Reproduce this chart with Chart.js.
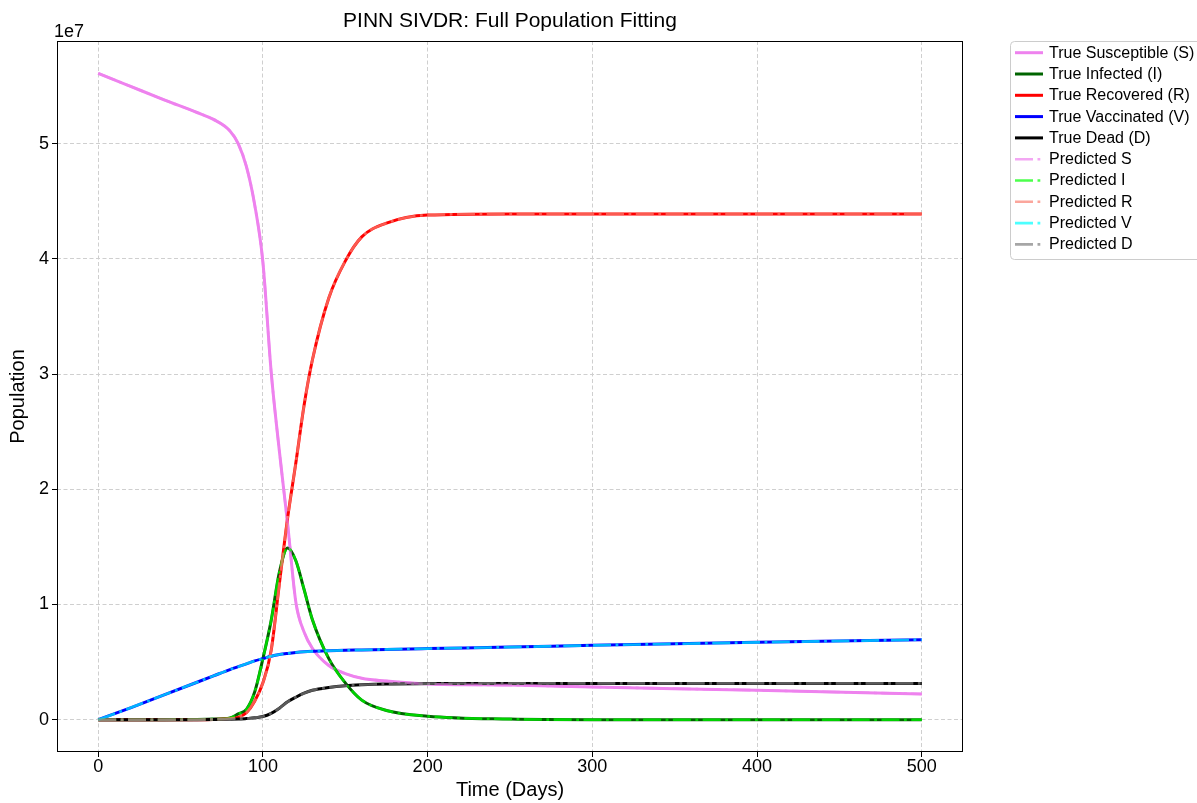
<!DOCTYPE html>
<html>
<head>
<meta charset="utf-8">
<title>PINN SIVDR: Full Population Fitting</title>
<script src="https://cdn.jsdelivr.net/npm/chart.js@4.4.1/dist/chart.umd.min.js"></script>
<style>
    html, body { margin: 0; padding: 0; background: #ffffff; }
</style>
</head>
<body>
<canvas id="myChart" width="1197" height="803"></canvas>
<script>
// values, population in units of 1e7
const days = [0, 20, 40, 60, 70, 80, 85, 90, 95, 100, 105, 110, 115, 120, 125, 130, 140, 150, 160, 175, 200, 250, 300, 400, 500];

const trueS = [5.61, 5.495, 5.38, 5.27, 5.21, 5.11, 5.00, 4.80, 4.47, 3.97, 3.02, 2.33, 1.70, 1.02, 0.76, 0.62, 0.47, 0.40, 0.36, 0.335, 0.31, 0.30, 0.284, 0.255, 0.223];
const trueI = [0, 0, 0, 0.002, 0.005, 0.015, 0.05, 0.09, 0.24, 0.53, 0.86, 1.28, 1.49, 1.38, 1.13, 0.87, 0.53, 0.32, 0.17, 0.08, 0.03, 0.005, 0, 0, 0];
const trueR = [0, 0, 0, 0, 0.002, 0.01, 0.02, 0.06, 0.16, 0.32, 0.60, 1.18, 1.75, 2.23, 2.73, 3.12, 3.66, 3.98, 4.19, 4.31, 4.38, 4.39, 4.39, 4.39, 4.39];
const trueV = [0, 0.105, 0.215, 0.325, 0.38, 0.435, 0.46, 0.485, 0.51, 0.53, 0.55, 0.565, 0.575, 0.583, 0.589, 0.593, 0.598, 0.602, 0.605, 0.61, 0.617, 0.63, 0.645, 0.671, 0.694];
const trueD = [0, 0, 0, 0, 0.001, 0.003, 0.005, 0.01, 0.016, 0.027, 0.055, 0.10, 0.155, 0.195, 0.23, 0.255, 0.28, 0.295, 0.303, 0.31, 0.313, 0.315, 0.315, 0.315, 0.315];

// the predictions sit right on top of the true curves at this scale
const predS = trueS;
const predI = trueI;
const predR = trueR;
const predV = trueV;
const predD = trueD;

const labels = [
    'True Susceptible (S)',
    'True Infected (I)',
    'True Recovered (R)',
    'True Vaccinated (V)',
    'True Dead (D)',
    'Predicted S',
    'Predicted I',
    'Predicted R',
    'Predicted V',
    'Predicted D'
];

const xTicks = [0, 100, 200, 300, 400, 500];
const yTicks = [0, 1, 2, 3, 4, 5];

const FONT = "'Liberation Sans', Arial, Helvetica, sans-serif";
const DASHDOT = [18, 4.5, 2.8, 4.5];

function toPoints(values) {
    return days.map((d, i) => { return { x: d, y: values[i] } });
}

function makeDataset(idx, values, color, width, dash) {
    return {
        label: labels[idx],
        data: toPoints(values),
        borderColor: color,
        backgroundColor: color,
        borderWidth: width,
        borderDash: dash,
        pointRadius: 0,
        fill: false,
        cubicInterpolationMode: 'monotone',
        // later datasets are drawn on top, like matplotlib
        order: 20 - idx
    };
}

// legend with a thin frame, drawn by hand next to the plot
const sideLegend = {
    id: 'sideLegend',
    afterDraw(chart) {
        const ctx = chart.ctx;
        const area = chart.chartArea;
        const left = area.right + 47;
        const top = area.top;
        ctx.save();
        ctx.beginPath();
        ctx.roundRect(left + 0.5, top + 0.5, 200, 218, 4);
        ctx.fillStyle = 'rgba(255,255,255,0.8)';
        ctx.fill();
        ctx.strokeStyle = '#cccccc';
        ctx.lineWidth = 1;
        ctx.stroke();

        ctx.font = '16px ' + FONT;
        ctx.textBaseline = 'middle';
        ctx.textAlign = 'left';
        chart.data.datasets.forEach((ds, i) => {
            const y = top + 11.7 + i * 21.3;
            ctx.beginPath();
            ctx.setLineDash(ds.borderDash || []);
            ctx.strokeStyle = ds.borderColor;
            ctx.lineWidth = ds.borderWidth;
            ctx.moveTo(left + 5, y);
            ctx.lineTo(left + 33, y);
            ctx.stroke();
            ctx.setLineDash([]);
            ctx.fillStyle = '#000000';
            ctx.fillText(ds.label, left + 39, y + 0.5);
        });
        ctx.restore();
    }
};

// closed box round the axes plus the "1e7" offset text
const axesFrame = {
    id: 'axesFrame',
    afterDatasetsDraw(chart) {
        const ctx = chart.ctx;
        const a = chart.chartArea;
        ctx.save();
        ctx.strokeStyle = '#000000';
        ctx.lineWidth = 1;
        ctx.strokeRect(Math.round(a.left) + 0.5, Math.round(a.top) + 0.5,
            Math.round(a.right - a.left) - 1, Math.round(a.bottom - a.top) - 1);
        ctx.font = '18px ' + FONT;
        ctx.fillStyle = '#000000';
        ctx.textAlign = 'left';
        ctx.textBaseline = 'alphabetic';
        ctx.fillText('1e7', a.left - 3, a.top - 4);
        ctx.restore();
    }
};

function addPopulationChart() {
    const data = {
        datasets: [
            makeDataset(0, trueS, '#ee82ee', 3, []),
            makeDataset(1, trueI, '#006400', 3, []),
            makeDataset(2, trueR, '#ff0000', 3, []),
            makeDataset(3, trueV, '#0000ff', 3, []),
            makeDataset(4, trueD, '#000000', 3, []),
            makeDataset(5, predS, 'rgba(238,130,238,0.7)', 2.6, DASHDOT),
            makeDataset(6, predI, 'rgba(0,255,0,0.7)', 2.6, DASHDOT),
            makeDataset(7, predR, 'rgba(250,128,114,0.7)', 2.6, DASHDOT),
            makeDataset(8, predV, 'rgba(0,255,255,0.7)', 2.6, DASHDOT),
            makeDataset(9, predD, 'rgba(128,128,128,0.7)', 2.6, DASHDOT)
        ]
    };
    const config = {
        type: 'line',
        data: data,
        plugins: [sideLegend, axesFrame],
        options: {
            responsive: false,
            animation: false,
            layout: {
                padding: { left: 0, right: 234, top: 0, bottom: 0 }
            },
            plugins: {
                legend: { display: false },
                tooltip: { enabled: false },
                title: {
                    display: true,
                    text: 'PINN SIVDR: Full Population Fitting',
                    fullSize: false,
                    color: '#000000',
                    font: { family: FONT, size: 21, weight: 'normal' },
                    padding: { top: 9, bottom: 6.8 }
                }
            },
            scales: {
                x: {
                    type: 'linear',
                    position: 'bottom',
                    min: -25,
                    max: 525,
                    afterBuildTicks: (axis) => { axis.ticks = xTicks.map((v) => ({ value: v })) },
                    afterFit: (axis) => { axis.height = 51 },
                    grid: {
                        color: '#cfcfcf',
                        lineWidth: 1,
                        tickLength: 5,
                        tickColor: '#000000',
                        tickWidth: 1
                    },
                    // the frame plugin draws the axis line, border only gives the grid dash
                    border: { display: false, dash: [4, 2.5] },
                    ticks: {
                        color: '#000000',
                        font: { family: FONT, size: 18, lineHeight: 1 },
                        padding: 1,
                        maxRotation: 0,
                        autoSkip: false,
                        callback: (value) => String(value)
                    },
                    title: {
                        display: true,
                        text: 'Time (Days)',
                        color: '#000000',
                        font: { family: FONT, size: 20 },
                        padding: { top: 0, bottom: 1 }
                    }
                },
                y: {
                    type: 'linear',
                    min: -0.2805,
                    max: 5.8905,
                    afterBuildTicks: (axis) => { axis.ticks = yTicks.map((v) => ({ value: v })) },
                    afterFit: (axis) => { axis.width = 57 },
                    grid: {
                        color: '#cfcfcf',
                        lineWidth: 1,
                        tickLength: 5,
                        tickColor: '#000000',
                        tickWidth: 1
                    },
                    border: { display: false, dash: [4, 2.5] },
                    ticks: {
                        color: '#000000',
                        font: { family: FONT, size: 18 },
                        padding: 3,
                        autoSkip: false,
                        callback: (value) => String(value)
                    },
                    title: {
                        display: true,
                        text: 'Population',
                        color: '#000000',
                        font: { family: FONT, size: 20 },
                        padding: { top: 6, bottom: 0 }
                    }
                }
            }
        }
    };
    myChart = new Chart(
        document.getElementById('myChart'),
        config
    );
}

let myChart;
addPopulationChart();
</script>
</body>
</html>
